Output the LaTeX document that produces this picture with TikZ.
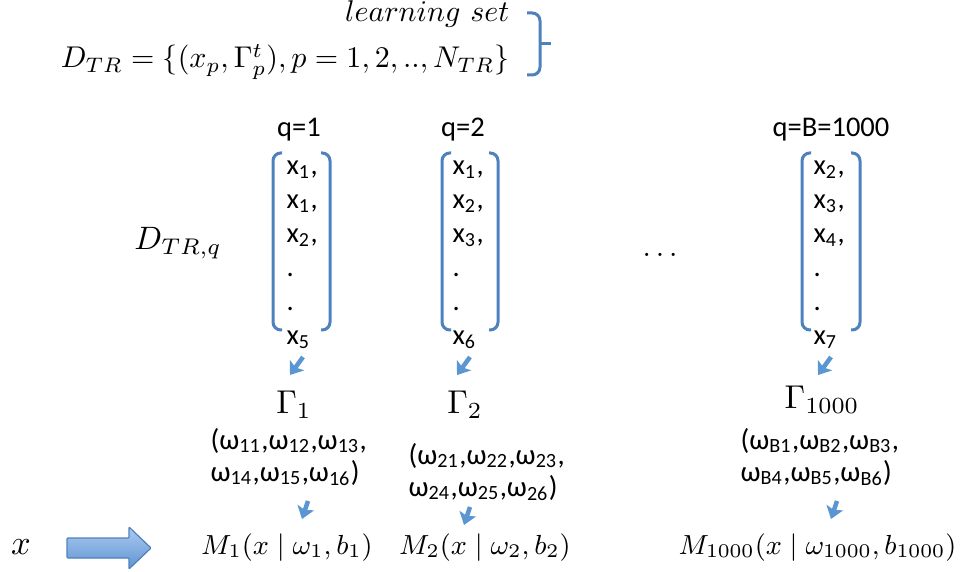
\RequirePackage{fix-cm}
\documentclass[tikz,border=0pt]{standalone}
\usepackage[no-math]{fontspec}
\newfontfamily\calib{Carlito}
\usetikzlibrary{arrows.meta}
\definecolor{bblue}{RGB}{79,129,189}
\definecolor{ablue}{RGB}{91,150,210}
\definecolor{alight}{RGB}{172,202,240}
\definecolor{adark}{RGB}{95,148,210}
\newcommand\lw[1]{\textsubscript{#1}}
\tikzset{
  entry/.style={anchor=base west,inner sep=0pt,font=\calib\fontsize{9.5}{11}\selectfont},
  qlab/.style={inner sep=0pt,font=\calib\fontsize{9.5}{11}\selectfont},
  wblock/.style={anchor=north west,inner sep=0pt,align=left,font=\calib\fontsize{9.6}{10.7}\selectfont},
  mathlab/.style={inner sep=0pt,font=\fontsize{10}{12}\selectfont},
  modlab/.style={inner sep=0pt,font=\fontsize{9.2}{12}\selectfont},
  brk/.style={draw=bblue,line width=1pt,rounded corners=2.6pt},
  sarr/.style={draw=ablue,line width=1.5pt,-{Stealth[length=4pt,width=5.8pt,inset=0.9pt]}}
}
\begin{document}
\begin{tikzpicture}[x=0.3333pt,y=-0.3333pt]
\useasboundingbox (0,0) rectangle (962,572);
% header
\node[mathlab,anchor=base east] (ls) at (510,22) {$learning\ set$};
\node[mathlab,anchor=base east] (dtr) at (510,68) {$D_{TR}=\{(x_p,\Gamma^t_p),p=1,2,..,N_{TR}\}$};
\draw[brk] (527,13) -- (540,13) -- (540,75) -- (527,75);
\draw[bblue,line width=1pt] (540,44) -- (551,44);
% left label
\node[mathlab,font=\fontsize{10.8}{13}\selectfont] (dq) at (178,243) {$D_{TR,q}$};
% column labels
\node[qlab] (q1) at (299,130) {q=1};
\node[qlab] (q2) at (463,130) {q=2};
\node[qlab] (q3) at (831,130) {q=B=1000};
% column 1
\foreach \i/\t in {1/{x\lw{1},},2/{x\lw{1},},3/{x\lw{2},},4/{.},5/{.},6/{x\lw{5}}}
  \node[entry] (a\i) at (286,{141+34*\i}) {\t};
\draw[brk] (282,153) -- (273,153) -- (273,330) -- (282,330);
\draw[brk] (321,153) -- (330,153) -- (330,330) -- (321,330);
% column 2
\foreach \i/\t in {1/{x\lw{1},},2/{x\lw{2},},3/{x\lw{3},},4/{.},5/{.},6/{x\lw{6}}}
  \node[entry] (b\i) at (452,{141+34*\i}) {\t};
\draw[brk] (451,153) -- (442,153) -- (442,330) -- (451,330);
\draw[brk] (489,153) -- (498,153) -- (498,330) -- (489,330);
% column 3
\foreach \i/\t in {1/{x\lw{2},},2/{x\lw{3},},3/{x\lw{4},},4/{.},5/{.},6/{x\lw{7}}}
  \node[entry] (c\i) at (813,{141+34*\i}) {\t};
\draw[brk] (811,153) -- (802,153) -- (802,330) -- (811,330);
\draw[brk] (851,153) -- (860,153) -- (860,330) -- (851,330);
% dots
\node[mathlab] (dots) at (660,255) {$\dots$};
% Gamma
\node[mathlab,font=\fontsize{11}{13}\selectfont] (g1) at (294,405) {$\Gamma_1$};
\node[mathlab,font=\fontsize{11}{13}\selectfont] (g2) at (465,405) {$\Gamma_2$};
\node[mathlab,font=\fontsize{11}{13}\selectfont] (g3) at (822,400) {$\Gamma_{1000}$};
% arrows x -> Gamma
\coordinate (t1s) at (303,357); \coordinate (t1e) at (290,375);
\coordinate (t2s) at (470,357); \coordinate (t2e) at (457,375);
\coordinate (t3s) at (831,357); \coordinate (t3e) at (818,375);
\draw[sarr] (t1s) -- (t1e);
\draw[sarr] (t2s) -- (t2e);
\draw[sarr] (t3s) -- (t3e);
% omega blocks
\node[wblock] (w1) at (210,428) {(ω\lw{11},ω\lw{12},ω\lw{13},\\ω\lw{14},ω\lw{15},ω\lw{16})};
\node[wblock] (w2) at (408,443) {(ω\lw{21},ω\lw{22},ω\lw{23},\\ω\lw{24},ω\lw{25},ω\lw{26})};
\node[wblock] (w3) at (740,428) {(ω\lw{B1},ω\lw{B2},ω\lw{B3},\\ω\lw{B4},ω\lw{B5},ω\lw{B6})};
% arrows omega -> M
\coordinate (m1s) at (308,501); \coordinate (m1e) at (302,519);
\coordinate (m2s) at (470,507); \coordinate (m2e) at (464,525);
\coordinate (m3s) at (837,501); \coordinate (m3e) at (831,519);
\draw[sarr] (m1s) -- (m1e);
\draw[sarr] (m2s) -- (m2e);
\draw[sarr] (m3s) -- (m3e);
% models
\node[mathlab,font=\fontsize{11.5}{13}\selectfont] (x) at (21,547) {$x$};
\node[modlab] (m1) at (287,548) {$M_1(x\mid\omega_1,b_1)$};
\node[modlab] (m2) at (485,548) {$M_2(x\mid\omega_2,b_2)$};
\node[modlab,anchor=east] (m3) at (957,548) {$M_{1000}(x\mid\omega_{1000},b_{1000})$};
% big arrow
\draw[bblue,line width=0.4pt,top color=alight,bottom color=adark,rounded corners=0.3pt]
  (67,538) -- (129,538) -- (129,527) -- (151,548) -- (129,569) -- (129,558) -- (67,558) -- cycle;
\end{tikzpicture}
\end{document}
